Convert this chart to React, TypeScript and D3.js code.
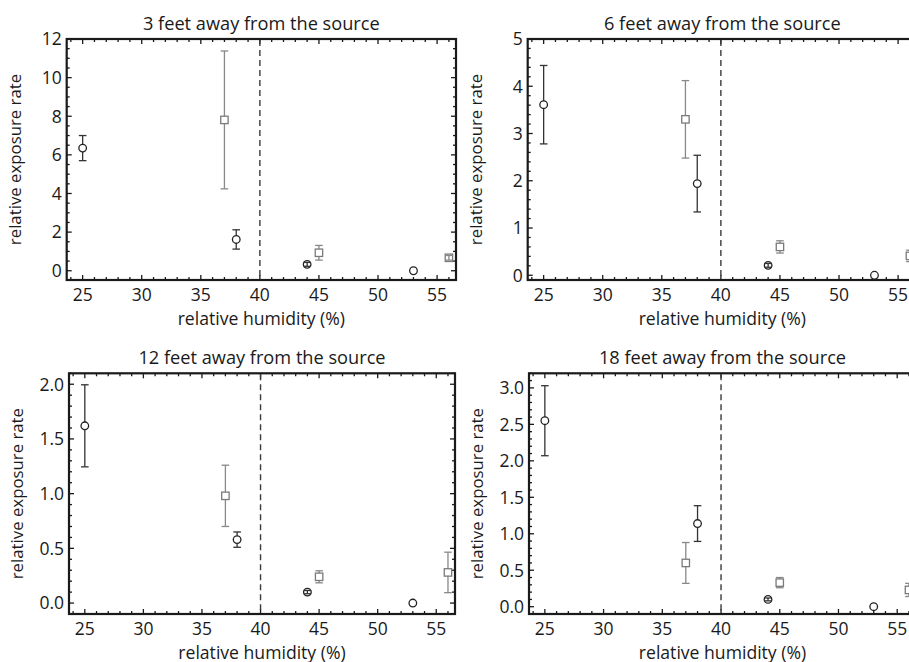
import React from "react";
import * as d3 from "d3";

const humidity = [25, 37, 38, 44, 45, 53, 56];
const markerShape = ["circle", "square", "circle", "circle", "square", "circle", "square"];

const feet3Values = [6.35, 7.81, 1.62, 0.33, 0.93, 0.0, 0.67];
const feet3Errors = [0.65, 3.57, 0.5, 0.1, 0.38, 0, 0.12];
const feet6Values = [3.61, 3.3, 1.94, 0.21, 0.6, 0.0, 0.41];
const feet6Errors = [0.83, 0.82, 0.6, 0.04, 0.13, 0, 0.12];
const feet12Values = [1.62, 0.98, 0.58, 0.1, 0.24, 0.0, 0.28];
const feet12Errors = [0.375, 0.28, 0.07, 0.015, 0.055, 0, 0.185];
const feet18Values = [2.55, 0.6, 1.14, 0.1, 0.33, 0.0, 0.23];
const feet18Errors = [0.48, 0.28, 0.245, 0.02, 0.07, 0, 0.09];

const titles = [
  "3 feet away from the source",
  "6 feet away from the source",
  "12 feet away from the source",
  "18 feet away from the source",
];
const xTicks = [25, 30, 35, 40, 45, 50, 55];
const yTicks3 = [0, 2, 4, 6, 8, 10, 12];
const yTicks6 = [0, 1, 2, 3, 4, 5];
const yTicks12 = [0, 0.5, 1.0, 1.5, 2.0];
const yTicks18 = [0, 0.5, 1.0, 1.5, 2.0, 2.5, 3.0];
const thresholdHumidity = 40;
const xLabel = "relative humidity (%)";
const yLabel = "relative exposure rate";

const FONT = "'Open Sans', 'Noto Sans', sans-serif";
const TXT = "#1a1a1a";

type PanelCfg = {
  title: string;
  values: number[];
  errors: number[];
  yTicks: number[];
  yDomain: [number, number];
  yMinorStep: number;
  decimals: number;
  left: number;
  right: number;
  top: number;
  bottom: number;
};

const panels: PanelCfg[] = [
  { title: titles[0], values: feet3Values, errors: feet3Errors, yTicks: yTicks3, yDomain: [-0.48, 12], yMinorStep: 0.5, decimals: 0, left: 66.7, right: 456, top: 39, bottom: 280 },
  { title: titles[1], values: feet6Values, errors: feet6Errors, yTicks: yTicks6, yDomain: [-0.1, 5], yMinorStep: 0.2, decimals: 0, left: 527.7, right: 917, top: 39, bottom: 280 },
  { title: titles[2], values: feet12Values, errors: feet12Errors, yTicks: yTicks12, yDomain: [-0.1, 2.1], yMinorStep: 0.1, decimals: 1, left: 69, right: 455, top: 373.3, bottom: 614 },
  { title: titles[3], values: feet18Values, errors: feet18Errors, yTicks: yTicks18, yDomain: [-0.1, 3.2], yMinorStep: 0.1, decimals: 1, left: 529, right: 916, top: 373.3, bottom: 614 },
];

function Panel({ cfg }: { cfg: PanelCfg }) {
  const x = d3.scaleLinear().domain([23.65, 56.6]).range([cfg.left, cfg.right]);
  const y = d3.scaleLinear().domain(cfg.yDomain).range([cfg.bottom, cfg.top]);
  const xMinor = d3.range(24, 57, 1).filter((v) => v % 5 !== 0);
  const yMinor = d3
    .range(Math.ceil(cfg.yDomain[0] / cfg.yMinorStep) * cfg.yMinorStep, cfg.yDomain[1] + 1e-9, cfg.yMinorStep)
    .filter((v) => !cfg.yTicks.some((t) => Math.abs(t - v) < 1e-6));
  const fmt = d3.format(cfg.decimals ? ".1f" : "d");
  const major = 5;
  const minor = 3;
  const frame = "#1a1a1a";
  const cx = (cfg.left + cfg.right) / 2;
  const cy = (cfg.top + cfg.bottom) / 2;
  const r = 3.8;
  const half = 3.7;
  const cap = 3.8;

  return (
    <g>
      <text x={cx} y={cfg.top - 9} textAnchor="middle" fontSize={18.2} fontFamily={FONT} fill={TXT}>
        {cfg.title}
      </text>
      <g stroke={frame} strokeWidth={1.3}>
        {xTicks.map((t) => (
          <g key={"xt" + t}>
            <line x1={x(t)} x2={x(t)} y1={cfg.bottom} y2={cfg.bottom - major} />
            <line x1={x(t)} x2={x(t)} y1={cfg.top} y2={cfg.top + major} />
          </g>
        ))}
        {xMinor.map((t) => (
          <g key={"xm" + t}>
            <line x1={x(t)} x2={x(t)} y1={cfg.bottom} y2={cfg.bottom - minor} />
            <line x1={x(t)} x2={x(t)} y1={cfg.top} y2={cfg.top + minor} />
          </g>
        ))}
        {cfg.yTicks.map((t) => (
          <g key={"yt" + t}>
            <line x1={cfg.left} x2={cfg.left + major} y1={y(t)} y2={y(t)} />
            <line x1={cfg.right} x2={cfg.right - major} y1={y(t)} y2={y(t)} />
          </g>
        ))}
        {yMinor.map((t, i) => (
          <g key={"ym" + i}>
            <line x1={cfg.left} x2={cfg.left + minor} y1={y(t)} y2={y(t)} />
            <line x1={cfg.right} x2={cfg.right - minor} y1={y(t)} y2={y(t)} />
          </g>
        ))}
      </g>
      <rect x={cfg.left} y={cfg.top} width={cfg.right - cfg.left} height={cfg.bottom - cfg.top} fill="none" stroke={frame} strokeWidth={2.2} />
      {xTicks.map((t) => (
        <text key={"xl" + t} x={x(t)} y={cfg.bottom + 20.5} textAnchor="middle" fontSize={17.5} fontFamily={FONT} fill={TXT}>
          {t}
        </text>
      ))}
      {cfg.yTicks.map((t) => (
        <text key={"yl" + t} x={cfg.left - 5} y={y(t)} dy="0.36em" textAnchor="end" fontSize={17.5} fontFamily={FONT} fill={TXT}>
          {fmt(t)}
        </text>
      ))}
      <text x={cx} y={cfg.bottom + 44.5} textAnchor="middle" fontSize={17.6} fontFamily={FONT} fill={TXT}>
        {xLabel}
      </text>
      <text
        transform={`translate(${cfg.left - 46},${cy}) rotate(-90)`}
        textAnchor="middle"
        fontSize={16.8}
        fontFamily={FONT}
        fill={TXT}
      >
        {yLabel}
      </text>
      <line x1={x(thresholdHumidity)} x2={x(thresholdHumidity)} y1={cfg.top + 1} y2={cfg.bottom - 1} stroke="#3a3a3a" strokeWidth={1.4} strokeDasharray="6,4" />
      {humidity.map((h, i) => {
        const px = x(h);
        const py = y(cfg.values[i]);
        const err = cfg.errors[i];
        const isSq = markerShape[i] === "square";
        const color = isSq ? "#888" : "#333";
        const mColor = isSq ? "#7a7a7a" : "#222";
        const yTop = y(cfg.values[i] + err);
        const yBot = y(cfg.values[i] - err);
        const ext = isSq ? half : r;
        return (
          <g key={"d" + i}>
            {err > 0 && py - yTop > ext && <line x1={px} x2={px} y1={yTop} y2={py - ext} stroke={color} strokeWidth={1.3} />}
            {err > 0 && yBot - py > ext && <line x1={px} x2={px} y1={py + ext} y2={yBot} stroke={color} strokeWidth={1.3} />}
            {isSq ? (
              <rect x={px - half} y={py - half} width={half * 2} height={half * 2} fill="#fff" stroke={mColor} strokeWidth={1.3} />
            ) : (
              <circle cx={px} cy={py} r={r} fill="#fff" stroke={mColor} strokeWidth={1.3} />
            )}
            {err > 0 && (
              <g stroke={color} strokeWidth={1.3}>
                <line x1={px - cap} x2={px + cap} y1={yTop} y2={yTop} />
                <line x1={px - cap} x2={px + cap} y1={yBot} y2={yBot} />
                {py - yTop <= ext && <line x1={px} x2={px} y1={yTop} y2={yBot} />}
              </g>
            )}
          </g>
        );
      })}
    </g>
  );
}

export default function App() {
  return (
    <div style={{ position: "absolute", left: 0, top: 0 }}>
      <svg width={909} height={662} style={{ display: "block", background: "#fff" }}>
        <rect width={909} height={662} fill="#fff" />
        {panels.map((p, i) => (
          <Panel key={i} cfg={p} />
        ))}
      </svg>
    </div>
  );
}
